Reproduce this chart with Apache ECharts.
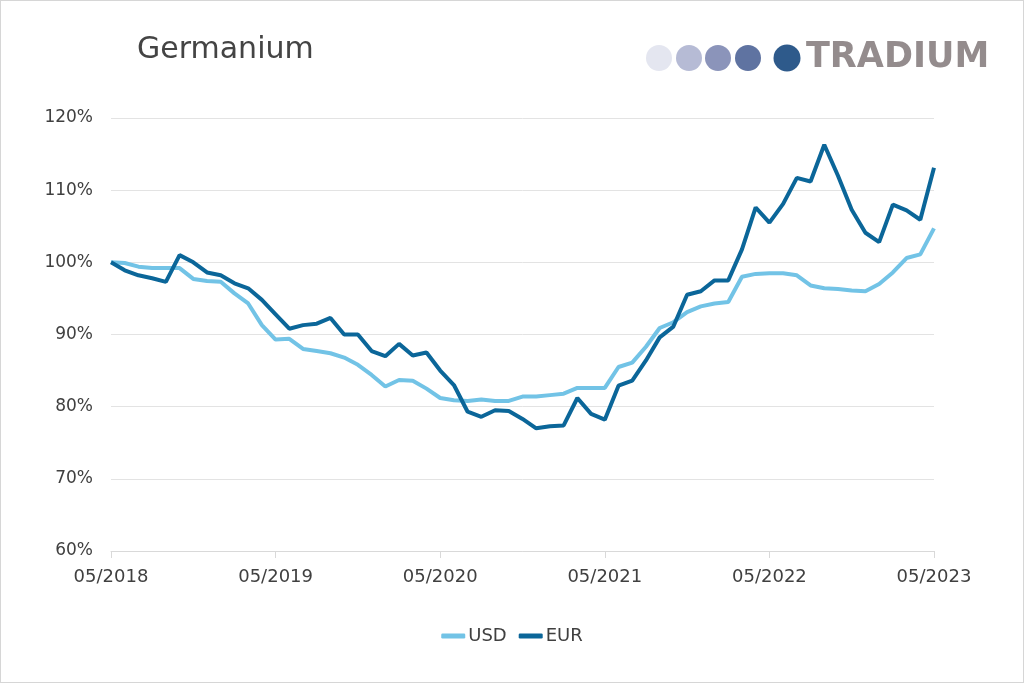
<!DOCTYPE html>
<html>
<head>
<meta charset="utf-8">
<script src="https://cdn.jsdelivr.net/npm/echarts@6/dist/echarts.min.js"></script>
<style>
html,body{margin:0;padding:0;background:#fff;}
#c{width:1024px;height:683px;box-sizing:border-box;border:1px solid #d6d6d6;}
</style>
</head>
<body>
<div id="c"></div>
<script>
var startYear = 2018, startMonth = 5, monthCount = 61;
var yTicks = [60, 70, 80, 90, 100, 110, 120];
var usd = [100.0, 99.9, 99.4, 99.2, 99.2, 99.2, 97.7, 97.4, 97.3, 95.7, 94.3,
  91.3, 89.3, 89.4, 88.0, 87.7, 87.4, 86.8, 85.8, 84.4, 82.8,
  83.7, 83.6, 82.5, 81.2, 80.9, 80.8, 81.0, 80.8, 80.8, 81.4,
  81.4, 81.6, 81.8, 82.6, 82.6, 82.6, 85.5, 86.1, 88.3, 90.9,
  91.7, 93.1, 93.9, 94.3, 94.5, 98.0, 98.4, 98.5, 98.5, 98.2,
  96.8, 96.4, 96.3, 96.1, 96.0, 97.0, 98.6, 100.6, 101.1, 104.7];
var eur = [100.0, 98.9, 98.2, 97.8, 97.3, 101.0, 100.0, 98.6, 98.2, 97.1, 96.4,
  94.8, 92.8, 90.8, 91.3, 91.5, 92.3, 90.0, 90.0, 87.7, 87.0,
  88.7, 87.1, 87.5, 85.0, 83.0, 79.3, 78.6, 79.5, 79.4, 78.3,
  77.0, 77.3, 77.4, 81.2, 79.0, 78.2, 82.9, 83.6, 86.4, 89.6,
  91.1, 95.5, 96.0, 97.5, 97.5, 101.8, 107.6, 105.5, 108.1, 111.7,
  111.2, 116.3, 112.0, 107.3, 104.1, 102.8, 108.0, 107.2, 105.9, 113.1];
var seriesNames = ['USD', 'EUR'];
var colors = ['#72c3e6', '#0b6699'];

var categories = [];
for (var i = 0; i < monthCount; i++) {
  var m = (startMonth - 1 + i) % 12 + 1;
  var y = startYear + Math.floor((startMonth - 1 + i) / 12);
  categories.push((m < 10 ? '0' : '') + m + '/' + y);
}

var chart = echarts.init(document.getElementById('c'));
var font = 'DejaVu Sans';
chart.setOption({
  animation: false,
  backgroundColor: '#ffffff',
  grid: { left: 110, right: 89, top: 117, bottom: 131, containLabel: false },
  title: {
    text: 'Germanium', left: 131, top: 29,
    textStyle: { fontFamily: 'DejaVu Sans', fontWeight: 'normal', fontSize: 30, color: '#444444' }
  },
  legend: {
    bottom: 32, left: 'center', itemWidth: 24, itemHeight: 5, itemGap: 12,
    icon: 'roundRect',
    textStyle: { fontFamily: font, fontSize: 18, color: '#404040', padding: [0, 0, 0, -2] },
    data: seriesNames
  },
  xAxis: {
    type: 'category', data: categories, boundaryGap: false,
    axisLine: { lineStyle: { color: '#d9d9d9', width: 1 } },
    axisTick: { show: true, interval: 11, length: 7, lineStyle: { color: '#d9d9d9' } },
    axisLabel: { interval: 11, fontFamily: font, fontSize: 18, color: '#404040', margin: 17 },
    splitLine: { show: false }
  },
  yAxis: {
    type: 'value', min: yTicks[0], max: yTicks[yTicks.length - 1], interval: 10,
    axisLine: { show: false }, axisTick: { show: false },
    axisLabel: { formatter: '{value}%', fontFamily: font, fontSize: 17, color: '#404040', margin: 18 },
    splitLine: { lineStyle: { color: '#e3e3e3', width: 1 } }
  },
  graphic: [
    { type: 'circle', shape: { cx: 658, cy: 57, r: 13 }, style: { fill: '#e4e6f0' } },
    { type: 'circle', shape: { cx: 688, cy: 57, r: 13 }, style: { fill: '#b6bbd5' } },
    { type: 'circle', shape: { cx: 717, cy: 57, r: 13 }, style: { fill: '#8b94ba' } },
    { type: 'circle', shape: { cx: 747, cy: 57, r: 13 }, style: { fill: '#5f73a1' } },
    { type: 'circle', shape: { cx: 786, cy: 57, r: 13.5 }, style: { fill: '#2e5a8b' } },
    { type: 'text', left: 805, top: 39, style: { text: 'TRADIUM', fill: '#948c8d', font: 'bold 35px "DejaVu Sans"' } }
  ],
  series: [
    { name: seriesNames[0], type: 'line', data: usd, symbol: 'none', color: colors[0],
      lineStyle: { width: 4, color: colors[0] }, z: 2 },
    { name: seriesNames[1], type: 'line', data: eur, symbol: 'none', color: colors[1],
      lineStyle: { width: 4, color: colors[1] }, z: 3 }
  ]
});
</script>
</body>
</html>
